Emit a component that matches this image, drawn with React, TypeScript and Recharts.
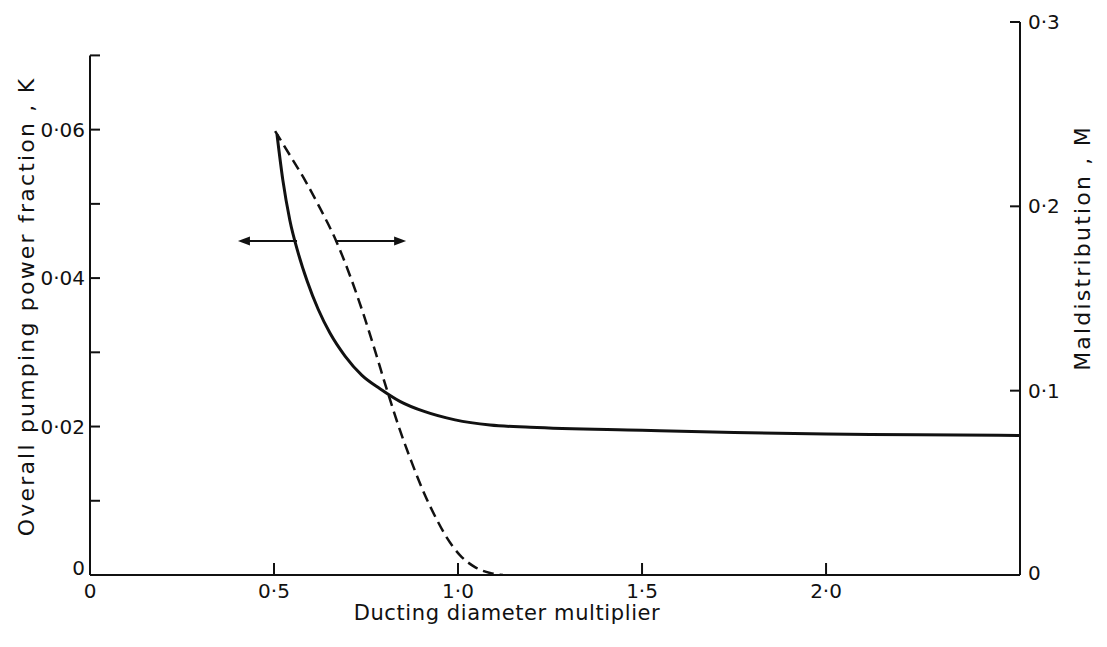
import React from "react";
import { LineChart, Line, XAxis, YAxis, ReferenceLine, Label } from "recharts";

// ---- data ----
const xTicks = [0, 0.5, 1.0, 1.5, 2.0];
const kTicks = [0, 0.01, 0.02, 0.03, 0.04, 0.05, 0.06, 0.07];
const mTicks = [0, 0.1, 0.2, 0.3];

// Overall pumping power fraction K (solid, left axis)
const kX = [0.508, 0.524, 0.543, 0.565, 0.59, 0.62, 0.652, 0.693, 0.739, 0.788, 0.842, 0.91, 0.992, 1.087, 1.196, 1.5, 1.75, 2.0, 2.25, 2.527];
const kValues = [0.0594, 0.0532, 0.0478, 0.0435, 0.0396, 0.0358, 0.0326, 0.0295, 0.0269, 0.0251, 0.0234, 0.022, 0.0209, 0.0202, 0.0199, 0.0195, 0.0192, 0.019, 0.0189, 0.0188];

// Maldistribution M (dashed, right axis)
const mX = [0.503, 0.543, 0.584, 0.625, 0.668, 0.707, 0.742, 0.774, 0.807, 0.842, 0.875, 0.91, 0.943, 0.97, 1.005, 1.046, 1.087, 1.122];
const mValues = [0.2408, 0.2278, 0.2142, 0.199, 0.1816, 0.1621, 0.1421, 0.122, 0.1003, 0.0787, 0.0607, 0.0434, 0.0298, 0.0201, 0.0108, 0.0043, 0.0011, 0];

// double arrow (left part points to K axis, right part to M axis)
const arrowK = 0.045;
const arrowLeft = [0.5625, 0.402];
const arrowRight = [0.666, 0.859];

const kData = kX.map((x, i) => ({ x, K: kValues[i] }));
const mData = mX.map((x, i) => ({ x, M: mValues[i] }));

const FONT = "DejaVu Sans";
const FS = 20;
const TFS = 22;
const INK = "#111";

const fmt = (v: number, d: number) => (v === 0 ? "0" : v.toFixed(d).replace(".", "\u00B7"));

const LeftTick = (props: any) => {
  const { x, y, payload } = props;
  const v = payload.value;
  const showLabel = Math.round(v * 100) % 2 === 0;
  return (
    <g>
      {v !== 0 && <line x1={x + 6} x2={x + 16} y1={y} y2={y} stroke={INK} strokeWidth={2} />}
      {showLabel && (
        <text x={x + 1} y={v === 0 ? y - 7 : y} textAnchor="end" dominantBaseline="central" fontFamily={FONT} fontSize={FS} fill={INK}>
          {fmt(v, 2)}
        </text>
      )}
    </g>
  );
};

const RightTick = (props: any) => {
  const { x, y, payload } = props;
  const v = payload.value;
  return (
    <g>
      {v !== 0 && <line x1={x - 8} x2={x - 18} y1={y} y2={y} stroke={INK} strokeWidth={2} />}
      <text x={x} y={v === 0 ? y - 2 : y} textAnchor="start" dominantBaseline="central" fontFamily={FONT} fontSize={FS} fill={INK}>
        {fmt(v, 1)}
      </text>
    </g>
  );
};

const BottomTick = (props: any) => {
  const { x, y, payload } = props;
  const v = payload.value;
  return (
    <g>
      {v !== 0 && <line x1={x} x2={x} y1={y - 4} y2={y - 16} stroke={INK} strokeWidth={2} />}
      <text x={x} y={y + 12} textAnchor="middle" dominantBaseline="central" fontFamily={FONT} fontSize={FS} fill={INK}>
        {fmt(v, 1)}
      </text>
    </g>
  );
};

const ArrowShape = (props: any) => {
  const { x1, y1, x2, y2 } = props;
  const dir = x2 > x1 ? 1 : -1;
  const len = 12;
  const hw = 4.5;
  return (
    <g>
      <line x1={x1} y1={y1} x2={x2 - dir * len * 0.6} y2={y2} stroke={INK} strokeWidth={2} />
      <polygon points={`${x2},${y2} ${x2 - dir * len},${y2 - hw} ${x2 - dir * len},${y2 + hw}`} fill={INK} />
    </g>
  );
};

export default function App() {
  return (
    <div style={{ position: "absolute", left: 0, top: 0, width: 1107, height: 647, background: "#fff" }}>
      <LineChart width={1107} height={647} margin={{ top: 22, right: 27, bottom: 32, left: 30 }}>
        <XAxis
          type="number"
          dataKey="x"
          domain={[0, 2.527]}
          ticks={xTicks}
          interval={0}
          allowDataOverflow
          tickSize={0}
          tickMargin={4}
          tick={<BottomTick />}
          tickLine={false}
          axisLine={{ stroke: INK, strokeWidth: 2 }}
          height={40}
        >
          <Label
            content={(p: any) => {
              const vb = p.viewBox;
              return (
                <text x={vb.x + 417} y={vb.y + 38} textAnchor="middle" dominantBaseline="central" fontFamily={FONT} fontSize={21} letterSpacing={0.6} fill={INK}>
                  Ducting diameter multiplier
                </text>
              );
            }}
          />
        </XAxis>
        <YAxis
          yAxisId="left"
          orientation="left"
          type="number"
          domain={[0, 0.0745]}
          ticks={kTicks}
          interval={0}
          allowDataOverflow
          width={60}
          tickSize={0}
          tickMargin={6}
          tickLine={false}
          axisLine={false}
          tick={<LeftTick />}
        >
          <Label
            content={(p: any) => {
              const vb = p.viewBox;
              const cx = vb.x - 4;
              const cy = vb.y + vb.height / 2 + 8;
              return (
                <text x={cx} y={cy} transform={`rotate(-90 ${cx} ${cy})`} textAnchor="middle" dominantBaseline="central" fontFamily={FONT} fontSize={TFS} letterSpacing={2.2} fill={INK}>
                  Overall  pumping  power  fraction , K
                </text>
              );
            }}
          />
        </YAxis>
        <YAxis
          yAxisId="right"
          orientation="right"
          type="number"
          domain={[0, 0.3]}
          ticks={mTicks}
          interval={0}
          allowDataOverflow
          width={60}
          tickSize={0}
          tickMargin={8}
          tickLine={false}
          axisLine={{ stroke: INK, strokeWidth: 2 }}
          tick={<RightTick />}
        >
          <Label
            content={(p: any) => {
              const vb = p.viewBox;
              const cx = vb.x + 62;
              const cy = vb.y + 226;
              return (
                <text x={cx} y={cy} transform={`rotate(-90 ${cx} ${cy})`} textAnchor="middle" dominantBaseline="central" fontFamily={FONT} fontSize={TFS} letterSpacing={2.2} fill={INK}>
                  Maldistribution  , M
                </text>
              );
            }}
          />
        </YAxis>

        {/* left axis line stops at 0.07 */}
        <ReferenceLine
          yAxisId="left"
          segment={[{ x: 0, y: 0 }, { x: 0, y: 0.07 }]}
          stroke={INK}
          strokeWidth={2}
          ifOverflow="visible"
        />

        <Line
          yAxisId="left"
          data={kData}
          dataKey="K"
          type="monotone"
          stroke={INK}
          strokeWidth={3}
          dot={false}
          isAnimationActive={false}
        />
        <Line
          yAxisId="right"
          data={mData}
          dataKey="M"
          type="monotone"
          stroke={INK}
          strokeWidth={2.5}
          strokeDasharray="11 6"
          dot={false}
          isAnimationActive={false}
        />

        <ReferenceLine
          yAxisId="left"
          segment={[{ x: arrowLeft[0], y: arrowK }, { x: arrowLeft[1], y: arrowK }]}
          stroke={INK}
          shape={<ArrowShape />}
          ifOverflow="visible"
        />
        <ReferenceLine
          yAxisId="left"
          segment={[{ x: arrowRight[0], y: arrowK }, { x: arrowRight[1], y: arrowK }]}
          stroke={INK}
          shape={<ArrowShape />}
          ifOverflow="visible"
        />
      </LineChart>
    </div>
  );
}
